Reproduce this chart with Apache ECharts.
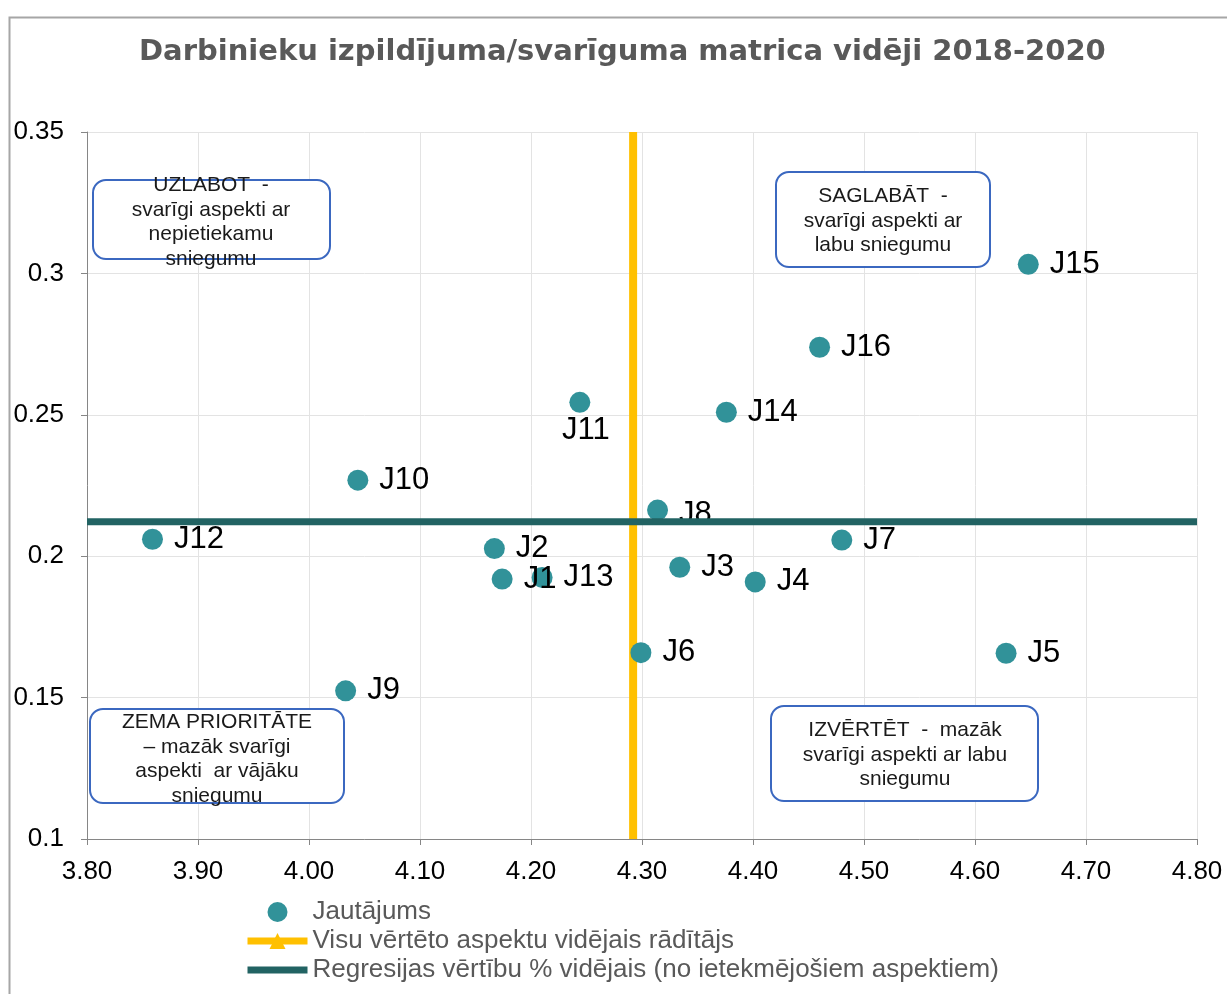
<!DOCTYPE html>
<html>
<head>
<meta charset="utf-8">
<script src="https://cdn.jsdelivr.net/npm/echarts@6/dist/echarts.min.js"></script>
<style>
html,body{margin:0;padding:0;background:#fff;}
#chart{width:1227px;height:994px;}
</style>
</head>
<body>
<div id="chart"></div>
<script>
// ---- data ----
const pointNames = ['J1','J2','J3','J4','J5','J6','J7','J8','J9','J10','J11','J12','J13','J14','J15','J16'];
const pointX = [4.174, 4.167, 4.334, 4.402, 4.628, 4.299, 4.480, 4.314, 4.033, 4.044, 4.244, 3.859, 4.210, 4.376, 4.648, 4.460];
const pointY = [0.1919, 0.2027, 0.1961, 0.1909, 0.1657, 0.1659, 0.2057, 0.2163, 0.1524, 0.2269, 0.2544, 0.2060, 0.1925, 0.2509, 0.3032, 0.2739];
const avgPerformance = 4.292;   // vertical line
const avgImportance = 0.2122;   // horizontal line
const xMin = 3.8, xMax = 4.8, xStep = 0.1;
const yMin = 0.1, yMax = 0.35, yStep = 0.05;
const seriesNames = ['Jautājums', 'Visu vērtēto aspektu vidējais rādītājs', 'Regresijas vērtību % vidējais (no ietekmējošiem aspektiem)'];
const titleText = 'Darbinieku izpildījuma/svarīguma matrica vidēji 2018-2020';
const quadrantTexts = [
  ['UZLABOT  -', 'svarīgi aspekti ar', 'nepietiekamu', 'sniegumu'],
  ['SAGLABĀT  -', 'svarīgi aspekti ar', 'labu sniegumu'],
  ['ZEMA PRIORITĀTE', '– mazāk svarīgi', 'aspekti  ar vājāku', 'sniegumu'],
  ['IZVĒRTĒT  -  mazāk', 'svarīgi aspekti ar labu', 'sniegumu']
];

const FONT = '"Liberation Sans", Arial, sans-serif';
const chart = echarts.init(document.getElementById('chart'));

const scatterData = pointNames.map((n, i) => {
  const item = { name: n, value: [pointX[i], pointY[i]] };
  if (n === 'J11') item.label = { position: 'bottom', distance: 2, offset: [6, 0] };
  if (n === 'J8') item.label = { offset: [0, 4] };
  return item;
});

// quadrant boxes layout (pixels)
const boxes = [
  { x: 93, y: 180, w: 237, h: 79, cx: 211, ty: 173 },
  { x: 776, y: 172, w: 214, h: 95, cx: 883, ty: 184 },
  { x: 90, y: 709, w: 254, h: 94, cx: 217, ty: 710 },
  { x: 771, y: 706, w: 267, h: 95, cx: 905, ty: 718 }
];
const graphics = [{
  type: 'rect', left: 7, top: 15, z: 0, silent: true,
  shape: { width: 1240, height: 1000 },
  style: { fill: 'none', stroke: '#A6A6A6', lineWidth: 2 }
}];
boxes.forEach((b, i) => {
  graphics.push({
    type: 'rect', x: b.x, y: b.y, z: 100,
    shape: { width: b.w, height: b.h, r: 13 },
    style: { fill: '#fff', stroke: '#3B68C0', lineWidth: 2 }
  });
  graphics.push({
    type: 'text', x: b.cx, y: b.ty, z: 101,
    style: {
      text: quadrantTexts[i].join('\n'),
      font: '21px ' + FONT, fill: '#1a1a1a',
      textAlign: 'center', textVerticalAlign: 'top', lineHeight: 24.5
    }
  });
});

chart.setOption({
  animation: false,
  backgroundColor: '#fff',
  title: {
    text: titleText, left: 134, top: 33,
    textStyle: { fontFamily: '"DejaVu Sans", Verdana, sans-serif', fontWeight: 'bold', fontSize: 29, color: '#595959' }
  },
  grid: { left: 87, right: 30, top: 132, bottom: 155, containLabel: false },
  xAxis: {
    type: 'value', min: xMin, max: xMax, interval: xStep,
    axisLine: { show: true, lineStyle: { color: '#868686', width: 1 } },
    axisTick: { show: true, length: 6, lineStyle: { color: '#868686' } },
    axisLabel: { fontFamily: FONT, fontSize: 26, color: '#000', margin: 20, formatter: v => v.toFixed(2) },
    splitLine: { show: true, lineStyle: { color: '#E3E3E3', width: 1 } }
  },
  yAxis: {
    type: 'value', min: yMin, max: yMax, interval: yStep,
    axisLine: { show: true, lineStyle: { color: '#868686', width: 1 } },
    axisTick: { show: true, length: 6, lineStyle: { color: '#868686' } },
    axisLabel: { fontFamily: FONT, fontSize: 26, color: '#000', margin: 23, formatter: v => String(Math.round(v * 100) / 100) },
    splitLine: { show: true, lineStyle: { color: '#E3E3E3', width: 1 } }
  },
  legend: {
    orient: 'vertical', left: 239, top: 894, itemWidth: 60, itemHeight: 20, itemGap: 3,
    textStyle: { fontFamily: FONT, fontSize: 26, color: '#595959', lineHeight: 24 },
    lineStyle: { width: 7 },
    data: [
      { name: seriesNames[0], icon: 'circle', itemStyle: { opacity: 1 } },
      { name: seriesNames[1] },
      { name: seriesNames[2], itemStyle: { opacity: 0 } }
    ]
  },
  series: [
    {
      name: seriesNames[1], type: 'line', z: 1,
      data: [{ value: [avgPerformance, yMin], symbol: 'none' }, { value: [avgPerformance, yMax], symbol: 'none' }],
      symbol: 'triangle', symbolSize: 14,
      lineStyle: { color: '#FFC000', width: 8 }, itemStyle: { color: '#FFC000' }
    },
    {
      name: seriesNames[0], type: 'scatter', z: 2,
      symbolSize: 21,
      itemStyle: { color: '#319299', opacity: 1 },
      label: { show: true, position: 'right', distance: 11, formatter: '{b}', fontFamily: FONT, fontSize: 31, color: '#000' },
      data: scatterData
    },
    {
      name: seriesNames[2], type: 'line', z: 3,
      data: [[xMin, avgImportance], [xMax, avgImportance]],
      symbol: 'none',
      lineStyle: { color: '#226363', width: 7 }, itemStyle: { color: '#226363' }
    }
  ],
  graphic: graphics
});
</script>
</body>
</html>
